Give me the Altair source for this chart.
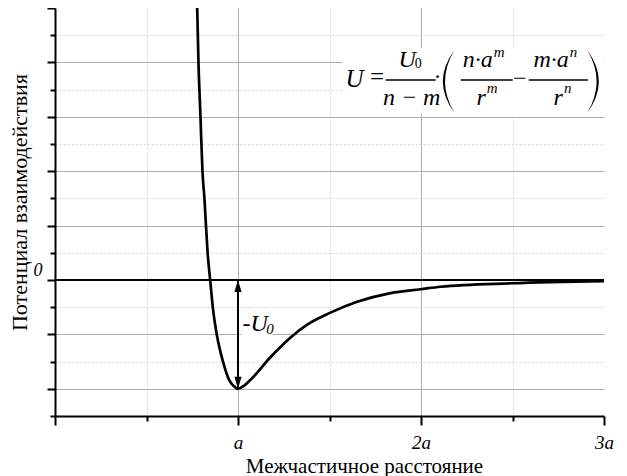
import altair as alt
import pandas as pd

FONT = "Liberation Serif"

# ---- curve (r in units of a, U in units of U0) ----
R = [0.777, 0.784, 0.795, 0.806, 0.817, 0.825, 0.834, 0.848, 0.863, 0.885,
     0.918, 0.952, 0.974, 1.000, 1.034, 1.067, 1.177, 1.286, 1.378, 1.505,
     1.651, 1.834, 1.998, 2.107, 2.496, 3.000]
U = [2.50, 2.00, 1.50, 0.99, 0.74, 0.50, 0.25, 0.00, -0.26, -0.51,
     -0.75, -0.92, -0.97, -1.00, -0.97, -0.92, -0.71, -0.53, -0.41, -0.30,
     -0.20, -0.12, -0.085, -0.062, -0.030, -0.010]

# ---- axes ----
X_DOMAIN = [0, 3]
Y_DOMAIN = [-1.25, 2.5]
X_TICKS = [0, 0.5, 1, 1.5, 2, 2.5, 3]
X_LABELS = ["", "", "a", "", "2a", "", "3a"]
Y_TICKS = [-1.25, -1.0, -0.75, -0.5, -0.25, 0.0, 0.25, 0.5, 0.75, 1.0,
           1.25, 1.5, 1.75, 2.0, 2.25, 2.5]
Y_LABELS = {0.0: "0"}
X_TITLE = "Межчастичное расстояние"
Y_TITLE = "Потенциал взаимодействия"

# ---- depth arrow ----
ARROW_X = 1.0
ARROW_Y = [0.0, -1.0]

# ---- annotation texts ----
ANN_T = ["U", "=", "U", "0", "n − m", "·", "n·a", "m", "r", "m", "−",
         "m·a", "n", "r", "n", "-U", "0"]
ANN_X = [1.587, 1.760, 1.877, 1.966, 1.949, 2.090, 2.392, 2.397, 2.354, 2.359,
         2.540, 2.808, 2.813, 2.775, 2.781, 1.024, 1.155]
ANN_Y = [1.774, 1.792, 1.958, 1.949, 1.608, 1.801, 1.958, 2.050, 1.608, 1.719,
         1.783, 1.958, 2.050, 1.608, 1.719, -0.469, -0.496]
ANN_S = [25, 25, 24, 14, 24, 24, 24, 15, 24, 15, 24, 24, 15, 24, 15, 24, 15]
ANN_IT = [True, False, True, False, True, False, True, True, True, True, False,
          True, True, True, True, True, True]
ANN_AL = ["left", "center", "left", "left", "center", "center", "right", "left",
          "right", "left", "center", "right", "left", "right", "left", "left", "left"]

# fraction bars
BAR_X = [1.806, 2.217, 2.589]
BAR_X2 = [2.080, 2.501, 2.912]
BAR_Y = [1.838, 1.838, 1.838]

# parentheses
PAREN_X = [2.140, 2.951]
PAREN_Y = [1.824, 1.824]

# white boxes behind formula and label
BOX_X = [1.57, 1.018]
BOX_X2 = [3.0, 1.19]
BOX_Y = [1.526, -0.294]
BOX_Y2 = [2.132, -0.551]

# ------------------------------------------------------------------
xs = alt.Scale(domain=X_DOMAIN, nice=False, zero=False)
ys = alt.Scale(domain=Y_DOMAIN, nice=False, zero=False)

x_expr = "''"
for v, l in zip(X_TICKS, X_LABELS):
    if l:
        x_expr = f"abs(datum.value - {v}) < 0.001 ? '{l}' : " + x_expr
y_expr = "''"
for v, l in Y_LABELS.items():
    y_expr = f"abs(datum.value - {v}) < 0.001 ? '{l}' : " + y_expr

major_x = "abs(datum.value - round(datum.value)) < 0.001"
major_y = "abs(datum.value*2 - round(datum.value*2)) < 0.001"

common_axis = dict(
    domainColor="black", domainWidth=2, tickColor="black", tickWidth=2,
    labelFont=FONT, labelFontStyle="italic", labelColor="black",
    titleFont=FONT, titleFontWeight="normal", titleColor="black",
    labelFlush=False, labelOverlap=False, grid=True, gridWidth=1,
)

x_axis = alt.Axis(
    values=X_TICKS, labelExpr=x_expr, title=X_TITLE, titleFontSize=21,
    labelFontSize=19, labelBaseline="alphabetic", labelPadding=23,
    tickSize={"condition": {"test": major_x, "value": 9}, "value": 5},
    gridColor={"condition": {"test": major_x, "value": "#adadad"}, "value": "#d6d6d6"},
    gridDash={"condition": {"test": major_x, "value": []}, "value": [2, 2]},
    gridOpacity={"condition": {"test": "datum.value < 0.01 || datum.value > 2.99", "value": 0}, "value": 1},
    titleX=309, titleY=56, titleBaseline="alphabetic", titleAlign="center",
    **common_axis,
)
y_axis = alt.Axis(
    values=Y_TICKS, labelExpr=y_expr, title=Y_TITLE, titleFontSize=22,
    labelFontSize=18, labelBaseline="alphabetic", labelOffset=-5, labelPadding=5,
    tickSize={"condition": {"test": major_y, "value": 8}, "value": 5},
    gridColor={"condition": {"test": major_y, "value": "#adadad"}, "value": "#d6d6d6"},
    gridDash={"condition": {"test": major_y, "value": []}, "value": [2, 2]},
    gridOpacity={"condition": {"test": "abs(datum.value) < 0.01 || datum.value > 2.49 || datum.value < -1.24", "value": 0}, "value": 1},
    titleX=-29, titleY=194, titleBaseline="alphabetic", titleAlign="center", titleAngle=270,
    **common_axis,
)

X = alt.X("x:Q", scale=xs, axis=x_axis)
Y = alt.Y("y:Q", scale=ys, axis=y_axis)

curve_df = pd.DataFrame({"x": R, "y": U})
curve = alt.Chart(curve_df).mark_line(
    color="black", strokeWidth=2.7, interpolate="monotone", clip=True
).encode(x=X, y=Y)

zero_df = pd.DataFrame({"x": [X_DOMAIN[0]], "x2": [X_DOMAIN[1]], "y": [0.0]})
zero_line = alt.Chart(zero_df).mark_rule(color="black", strokeWidth=2).encode(
    x=X, x2="x2:Q", y=Y
)

box_df = pd.DataFrame({"x": BOX_X, "x2": BOX_X2, "y": BOX_Y, "y2": BOX_Y2})
boxes = alt.Chart(box_df).mark_rect(color="white").encode(
    x=X, x2="x2:Q", y=Y, y2="y2:Q"
)

arrow_df = pd.DataFrame({"x": [ARROW_X], "y": [ARROW_Y[0]], "y2": [ARROW_Y[1]]})
arrow_stem = alt.Chart(arrow_df).mark_rule(color="black", strokeWidth=2).encode(
    x=X, y=Y, y2="y2:Q"
)
head_up = alt.Chart(pd.DataFrame({"x": [ARROW_X], "y": [ARROW_Y[0]]})).mark_point(
    shape="M-0.6,2 L0,0 L0.6,2 Z", size=144, filled=True, color="black", opacity=1
).encode(x=X, y=Y)
head_down = alt.Chart(pd.DataFrame({"x": [ARROW_X], "y": [ARROW_Y[1]]})).mark_point(
    shape="M-0.6,-2 L0,0 L0.6,-2 Z", size=144, filled=True, color="black", opacity=1
).encode(x=X, y=Y)

bar_df = pd.DataFrame({"x": BAR_X, "x2": BAR_X2, "y": BAR_Y})
bars = alt.Chart(bar_df).mark_rule(color="black", strokeWidth=1.5).encode(
    x=X, x2="x2:Q", y=Y
)

lp = alt.Chart(pd.DataFrame({"x": [PAREN_X[0]], "y": [PAREN_Y[0]]})).mark_point(
    shape="M0.25,-1 Q-0.49,0 0.25,1 Q-0.35,0 0.25,-1 Z", size=3969,
    filled=True, color="black", opacity=1
).encode(x=X, y=Y)
rp = alt.Chart(pd.DataFrame({"x": [PAREN_X[1]], "y": [PAREN_Y[1]]})).mark_point(
    shape="M-0.25,-1 Q0.49,0 -0.25,1 Q0.35,0 -0.25,-1 Z", size=3969,
    filled=True, color="black", opacity=1
).encode(x=X, y=Y)

ann_df = pd.DataFrame({"t": ANN_T, "x": ANN_X, "y": ANN_Y, "s": ANN_S,
                       "it": ANN_IT, "al": ANN_AL})
text_layers = []
for (it, al), sub in ann_df.groupby(["it", "al"]):
    text_layers.append(
        alt.Chart(sub.drop(columns=["it", "al"])).mark_text(
            font=FONT, fontStyle="italic" if it else "normal", align=al,
            baseline="alphabetic", color="black"
        ).encode(
            x=X, y=Y, text="t:N", size=alt.Size("s:Q", scale=None),
        )
    )

chart = alt.layer(
    curve, boxes, zero_line, arrow_stem, head_up, head_down, bars, lp, rp, *text_layers
).properties(
    width=549, height=408,
    autosize=alt.AutoSizeParams(type="none"),
    padding={"left": 47, "top": 0, "right": 12, "bottom": 70},
    background="white",
).configure_view(stroke=None)

chart.save("out.html", embed_options={"renderer": "svg", "actions": False})
